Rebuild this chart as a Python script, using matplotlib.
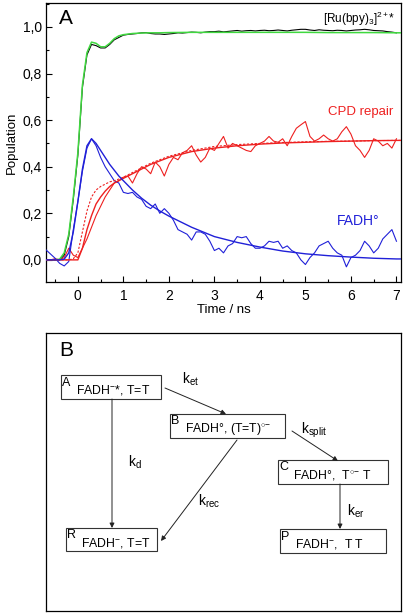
import matplotlib
matplotlib.use("Agg")
import matplotlib.pyplot as plt
from matplotlib.ticker import FuncFormatter, MultipleLocator
from matplotlib.patches import Rectangle

plt.rcParams['font.family'] = ['Liberation Sans', 'DejaVu Sans']
plt.rcParams['mathtext.fontset'] = 'custom'
plt.rcParams['mathtext.rm'] = 'Liberation Sans'
plt.rcParams['mathtext.it'] = 'Liberation Sans:italic'
plt.rcParams['mathtext.bf'] = 'Liberation Sans:bold'

# ---------------- data (panel A) ----------------
t_data = [round(-0.7 + 0.1 * i, 1) for i in range(78)]

blue_data = [0.043, 0.025, 0.007, -0.015, -0.026, -0.007, 0.13, 0.25, 0.38, 0.48,
             0.52, 0.49, 0.44, 0.40, 0.37, 0.34, 0.33, 0.29, 0.285, 0.29,
             0.27, 0.26, 0.23, 0.22, 0.24, 0.20, 0.22, 0.20, 0.17, 0.13,
             0.12, 0.11, 0.085, 0.12, 0.12, 0.11, 0.08, 0.04, 0.05, 0.03,
             0.06, 0.07, 0.10, 0.095, 0.10, 0.07, 0.05, 0.05, 0.06, 0.08,
             0.075, 0.08, 0.05, 0.06, 0.04, 0.03, 0.00, -0.02, 0.01, 0.03,
             0.06, 0.07, 0.08, 0.05, 0.03, 0.02, -0.03, 0.01, 0.02, 0.04,
             0.08, 0.06, 0.03, 0.05, 0.09, 0.11, 0.13, 0.08]

red_data = [0.0, 0.0, 0.005, 0.0, 0.01, 0.05, 0.02, 0.01, 0.05, 0.09,
            0.14, 0.19, 0.23, 0.27, 0.30, 0.33, 0.34, 0.355, 0.36, 0.33,
            0.37, 0.40, 0.39, 0.37, 0.42, 0.40, 0.36, 0.41, 0.44, 0.43,
            0.46, 0.47, 0.49, 0.45, 0.42, 0.44, 0.48, 0.47, 0.50, 0.53,
            0.48, 0.50, 0.49, 0.48, 0.47, 0.465, 0.49, 0.50, 0.51, 0.53,
            0.51, 0.505, 0.52, 0.49, 0.53, 0.565, 0.58, 0.594, 0.53, 0.51,
            0.52, 0.536, 0.52, 0.51, 0.52, 0.55, 0.572, 0.54, 0.49, 0.47,
            0.44, 0.47, 0.52, 0.51, 0.49, 0.50, 0.48, 0.52]

black_data = [0.0, 0.0, 0.0, 0.0, 0.02, 0.10, 0.26, 0.45, 0.74, 0.88,
              0.925, 0.92, 0.91, 0.91, 0.925, 0.945, 0.955, 0.965, 0.968, 0.97,
              0.972, 0.975, 0.976, 0.972, 0.97, 0.97, 0.968, 0.97, 0.972, 0.975,
              0.974, 0.976, 0.978, 0.977, 0.975, 0.978, 0.98, 0.98, 0.982, 0.979,
              0.981, 0.983, 0.985, 0.982, 0.984, 0.985, 0.983, 0.985, 0.986, 0.984,
              0.985, 0.987, 0.985, 0.983, 0.986, 0.988, 0.99, 0.99, 0.987, 0.985,
              0.988, 0.986, 0.985, 0.984, 0.986, 0.985, 0.983, 0.985, 0.987, 0.988,
              0.99, 0.988, 0.985, 0.984, 0.983, 0.98, 0.978, 0.975]

t_fit = [-0.7, -0.6, -0.5, -0.4, -0.3, -0.2, -0.1, 0.0, 0.1, 0.2, 0.3, 0.4, 0.5,
         0.6, 0.7, 0.8, 0.9, 1.0, 1.2, 1.4, 1.6, 1.8, 2.0, 2.5, 3.0, 3.5, 4.0,
         4.5, 5.0, 5.5, 6.0, 6.5, 7.0, 7.1]
green_fit = [0.0, 0.0, 0.0, 0.003, 0.03, 0.11, 0.27, 0.46, 0.75, 0.89, 0.935, 0.93, 0.915,
             0.915, 0.93, 0.95, 0.962, 0.967, 0.972, 0.974, 0.975, 0.975, 0.976, 0.977, 0.977, 0.977, 0.977,
             0.977, 0.977, 0.976, 0.976, 0.976, 0.975, 0.975]
blue_fit = [0.0, 0.0, 0.0, 0.0, 0.003, 0.03, 0.12, 0.25, 0.39, 0.49, 0.52, 0.50, 0.47,
            0.44, 0.41, 0.385, 0.36, 0.34, 0.30, 0.265, 0.235, 0.21, 0.188, 0.14, 0.10, 0.075, 0.055,
            0.038, 0.026, 0.018, 0.012, 0.007, 0.004, 0.004]
red_fit = [0.0, 0.0, 0.0, 0.0, 0.0, 0.0, 0.0, 0.0, 0.05, 0.13, 0.19, 0.24, 0.27,
           0.295, 0.315, 0.33, 0.34, 0.35, 0.37, 0.39, 0.41, 0.425, 0.44, 0.465, 0.48, 0.49, 0.497,
           0.502, 0.505, 0.508, 0.51, 0.512, 0.513, 0.513]
red_fit_dash = [0.0, 0.0, 0.0, 0.0, 0.0, 0.0, 0.005, 0.03, 0.12, 0.21, 0.27, 0.30, 0.315,
                0.325, 0.335, 0.34, 0.347, 0.355, 0.375, 0.395, 0.415, 0.43, 0.445, 0.47, 0.487, 0.495, 0.5,
                0.504, 0.507, 0.509, 0.51, 0.512, 0.513, 0.513]

y_ticks = [0.0, 0.2, 0.4, 0.6, 0.8, 1.0]
x_ticks = [0, 1, 2, 3, 4, 5, 6, 7]

W, H = 404, 614
fig = plt.figure(figsize=(W / 100, H / 100), dpi=100)


def fx(px):
    return px / W


def fy(py):
    return 1 - py / H


RED = '#ee2020'
BLUE = '#2020d8'
GREEN = '#3fd83f'

# ---------------- Panel A ----------------
axA = fig.add_axes([fx(46), fy(282), fx(401) - fx(46), fy(3) - fy(282)])
axA.plot(t_data, black_data, color='black', lw=0.8, zorder=3)
axA.plot(t_fit, green_fit, color=GREEN, lw=1.1, zorder=4)
axA.plot(t_data, red_data, color=RED, lw=0.8, zorder=3)
axA.plot(t_fit, red_fit, color=RED, lw=1.0, zorder=4)
axA.plot(t_fit, red_fit_dash, color=RED, lw=0.8, ls=(0, (2, 1.5)), zorder=4)
axA.plot(t_data, blue_data, color=BLUE, lw=0.8, zorder=3)
axA.plot(t_fit, blue_fit, color=BLUE, lw=1.0, zorder=4)

axA.set_xlim(-0.7, 7.1)
axA.set_ylim(-0.095, 1.103)
axA.set_xticks(x_ticks)
axA.set_yticks(y_ticks)
axA.xaxis.set_minor_locator(MultipleLocator(0.5))
axA.yaxis.set_minor_locator(MultipleLocator(0.1))
axA.yaxis.set_major_formatter(FuncFormatter(lambda v, p: f'{v:.1f}'.replace('.', ',')))
axA.tick_params(axis='both', which='major', direction='in', length=4.5, width=0.8,
                labelsize=10, top=False, right=False, pad=3)
axA.tick_params(axis='x', which='major', pad=5)
axA.tick_params(axis='both', which='minor', direction='in', length=2.5, width=0.8,
                top=False, right=False)
for s in axA.spines.values():
    s.set_linewidth(0.9)
axA.set_xlabel('Time / ns', fontsize=9.5, labelpad=1)
axA.set_ylabel('Population', fontsize=9.5, labelpad=3)

fig.text(fx(59), fy(18), 'A', fontsize=15, va='center', ha='left')
fig.text(fx(395), fy(19), r'[Ru(bpy)$_3$]$^{2+}$*', fontsize=8.5, va='center', ha='right')
fig.text(fx(393), fy(112), 'CPD repair', fontsize=9.5, color=RED, va='center', ha='right')
fig.text(fx(379), fy(221), 'FADH°', fontsize=10, color=BLUE, va='center', ha='right')

# ---------------- Panel B (scheme) ----------------
axB = fig.add_axes([fx(46), fy(611), fx(401) - fx(46), fy(333) - fy(611)])
axB.set_xlim(46, 401)
axB.set_ylim(611, 333)
axB.set_xticks([])
axB.set_yticks([])
for s in axB.spines.values():
    s.set_linewidth(0.9)

axB.text(59, 351, 'B', fontsize=15, va='center', ha='left')

boxes = [
    ('A', r'FADH$^{-}$*, T=T', 60.5, 375, 161, 399),
    ('B', r'FADH°, (T=T)$^{\circ{-}}$', 170, 414, 285, 438),
    ('C', r'FADH°,  T$^{\circ{-}}$ T', 278, 460, 388, 484),
    ('R', r'FADH$^{-}$, T=T', 66, 528, 157, 551),
    ('P', r'FADH$^{-}$,  T T', 280, 529, 386, 553),
]
for letter, label, x0, y0, x1, y1 in boxes:
    axB.add_patch(Rectangle((x0, y0), x1 - x0, y1 - y0, fill=False, lw=0.8,
                            edgecolor='#333333'))
    axB.text(x0 + 1.5, y0 + 1.5, letter, fontsize=9, va='top', ha='left')
    axB.text(x0 + 15, y0 + (y1 - y0) * 0.64, label, fontsize=8.8, va='center', ha='left')

arrows = [
    ((165, 388), (226, 414)),
    ((292, 431), (338, 461)),
    ((112, 399), (112, 528)),
    ((237, 440), (161, 541)),
    ((340, 484), (340, 529)),
]
for (xa, ya), (xb, yb) in arrows:
    axB.annotate('', xy=(xb, yb), xytext=(xa, ya),
                 arrowprops=dict(arrowstyle='-|>', lw=0.7, color='#222222',
                                 mutation_scale=7, shrinkA=0, shrinkB=0))

klabels = [
    (r'k$_{\mathrm{et}}$', 182, 379),
    (r'k$_{\mathrm{split}}$', 301, 430),
    (r'k$_{\mathrm{d}}$', 128, 462),
    (r'k$_{\mathrm{rec}}$', 198, 501),
    (r'k$_{\mathrm{er}}$', 347, 511),
]
for lab, x, y in klabels:
    axB.text(x, y, lab, fontsize=10, va='center', ha='left')

fig.savefig('out.png', dpi=100)
